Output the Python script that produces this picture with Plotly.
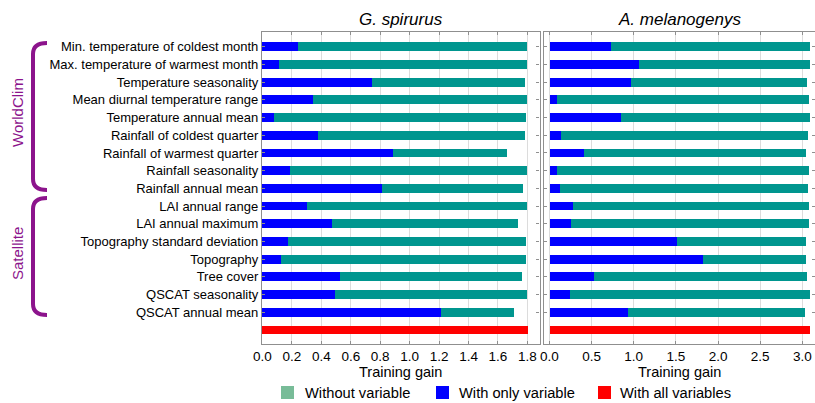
import plotly.graph_objects as go

categories = [
    "Min. temperature of coldest month",
    "Max. temperature of warmest month",
    "Temperature seasonality",
    "Mean diurnal temperature range",
    "Temperature annual mean",
    "Rainfall of coldest quarter",
    "Rainfall of warmest quarter",
    "Rainfall seasonality",
    "Rainfall annual mean",
    "LAI annual range",
    "LAI annual maximum",
    "Topography standard deviation",
    "Topography",
    "Tree cover",
    "QSCAT seasonality",
    "QSCAT annual mean",
]

# G. spirurus
gs_without = [1.796, 1.796, 1.785, 1.800, 1.789, 1.785, 1.660, 1.800, 1.769,
              1.800, 1.739, 1.789, 1.789, 1.766, 1.796, 1.710]
gs_only = [0.243, 0.113, 0.746, 0.345, 0.077, 0.379, 0.884, 0.184, 0.814,
           0.304, 0.474, 0.172, 0.127, 0.528, 0.494, 1.215]
gs_all = 1.803

# A. melanogenys
am_without = [3.080, 3.080, 3.048, 3.067, 3.080, 3.056, 3.040, 3.067, 3.056,
              3.071, 3.071, 3.040, 3.032, 3.048, 3.080, 3.020]
am_only = [0.726, 1.058, 0.963, 0.079, 0.845, 0.134, 0.410, 0.079, 0.114,
           0.272, 0.253, 1.504, 1.816, 0.521, 0.233, 0.924]
am_all = 3.080

gs_ticks = [0.0, 0.2, 0.4, 0.6, 0.8, 1.0, 1.2, 1.4, 1.6, 1.8]
am_ticks = [0.0, 0.5, 1.0, 1.5, 2.0, 2.5, 3.0]

legend_labels = ["Without variable", "With only variable", "With all variables"]
group_labels = ["WorldClim", "Satellite"]

W, H = 815, 403
TEAL = "#00968f"
BLUE = "#0000ff"
RED = "#ff0000"
LEG_GREEN = "#78bc98"
PURPLE = "#8c148c"
FONT = "Liberation Sans, Arial, sans-serif"

def px(x):
    return x / W

def py(y):
    return 1 - y / H

n = len(categories)
rows = list(range(n))
red_row = n

fig = go.Figure()

for xa, without, only, allv in [("x", gs_without, gs_only, gs_all),
                                ("x2", am_without, am_only, am_all)]:
    ya = "y" if xa == "x" else "y2"
    fig.add_trace(go.Bar(x=without, y=rows, orientation="h", width=0.5,
                         marker=dict(color=TEAL, line=dict(width=0)),
                         xaxis=xa, yaxis=ya, showlegend=False, hoverinfo="skip"))
    fig.add_trace(go.Bar(x=only, y=rows, orientation="h", width=0.5,
                         marker=dict(color=BLUE, line=dict(width=0)),
                         xaxis=xa, yaxis=ya, showlegend=False, hoverinfo="skip"))
    fig.add_trace(go.Bar(x=[allv], y=[red_row], orientation="h", width=0.5,
                         marker=dict(color=RED, line=dict(width=0)),
                         xaxis=xa, yaxis=ya, showlegend=False, hoverinfo="skip"))

ydom = [py(344), py(32)]
yrange = [16.79, -0.83]

axis_common = dict(showline=True, linecolor="#8f8f8f", linewidth=1.2, mirror="ticks",
                   showgrid=True, gridcolor="#dcdcdc", gridwidth=1, zeroline=False,
                   ticks="inside", ticklen=3, tickcolor="#8f8f8f", automargin=False,
                   tickfont=dict(size=13.5, color="black", family=FONT))

fig.update_layout(
    width=W, height=H,
    margin=dict(l=0, r=0, t=0, b=0, pad=0),
    paper_bgcolor="white", plot_bgcolor="white",
    barmode="overlay", bargap=0,
    showlegend=False,
    font=dict(family=FONT, color="black"),
    xaxis=dict(domain=[px(262), px(539.5)], range=[-0.003, 1.882], anchor="y",
               tickvals=gs_ticks, ticktext=[f"{v:.1f}" for v in gs_ticks], **axis_common),
    xaxis2=dict(domain=[px(543.5), 1.0], range=[-0.07, 3.15], anchor="y2",
                tickvals=am_ticks, ticktext=[f"{v:.1f}" for v in am_ticks], **axis_common),
    yaxis=dict(domain=ydom, range=yrange, tickvals=rows, ticktext=categories, anchor="x",
               **{**axis_common, "showgrid": False, "tickfont": dict(size=13, color="black", family=FONT)}),
    yaxis2=dict(domain=ydom, range=yrange, tickvals=rows, showticklabels=False,
                anchor="x2", **{**axis_common, "showgrid": False}),
)

annotations = []
# Panel titles
annotations.append(dict(x=px(400.5), y=py(19), xref="paper", yref="paper",
                        text="<i>G. spirurus</i>", showarrow=False,
                        font=dict(size=17, family=FONT, color="black"),
                        xanchor="center", yanchor="middle"))
annotations.append(dict(x=px(679), y=py(19), xref="paper", yref="paper",
                        text="<i>A. melanogenys</i>", showarrow=False,
                        font=dict(size=17, family=FONT, color="black"),
                        xanchor="center", yanchor="middle"))
# Axis titles
for xc in [400.5, 679]:
    annotations.append(dict(x=px(xc), y=py(372), xref="paper", yref="paper",
                            text="Training gain", showarrow=False,
                            font=dict(size=14.5, family=FONT, color="black"),
                            xanchor="center", yanchor="middle"))
# Group labels
for lab, yc in zip(group_labels, [113, 254]):
    annotations.append(dict(x=px(18), y=py(yc), xref="paper", yref="paper",
                            text=lab, textangle=-90, showarrow=False,
                            font=dict(size=15, family=FONT, color=PURPLE),
                            xanchor="center", yanchor="middle"))

# Legend (manual)
shapes = []
leg_items = [(281, LEG_GREEN, 303), (436, BLUE, 457), (598, RED, 618)]
for (x0, col, tx), lab in zip(leg_items, legend_labels):
    shapes.append(dict(type="rect", xref="paper", yref="paper",
                       x0=px(x0), x1=px(x0 + 13), y0=py(399), y1=py(386),
                       fillcolor=col, line=dict(width=0)))
    annotations.append(dict(x=px(tx), y=py(393), xref="paper", yref="paper",
                            text=lab, showarrow=False,
                            font=dict(size=14.7, family=FONT, color="black"),
                            xanchor="left", yanchor="middle"))

# Brackets
def bracket(top, bot, xr=47, xv=33, r=11):
    pts = (f"M {px(xr)},{py(top)} Q {px(xv)},{py(top)} {px(xv)},{py(top + r)} "
           f"L {px(xv)},{py(bot - r)} Q {px(xv)},{py(bot)} {px(xr)},{py(bot)}")
    return dict(type="path", xref="paper", yref="paper", path=pts,
                line=dict(color=PURPLE, width=4))

shapes.append(bracket(43, 190))
shapes.append(bracket(198, 315))

fig.update_layout(annotations=annotations, shapes=shapes)

fig.write_html("out.html", config={"displayModeBar": False},
               post_script="document.body.style.margin='0';document.body.style.overflow='hidden';")
